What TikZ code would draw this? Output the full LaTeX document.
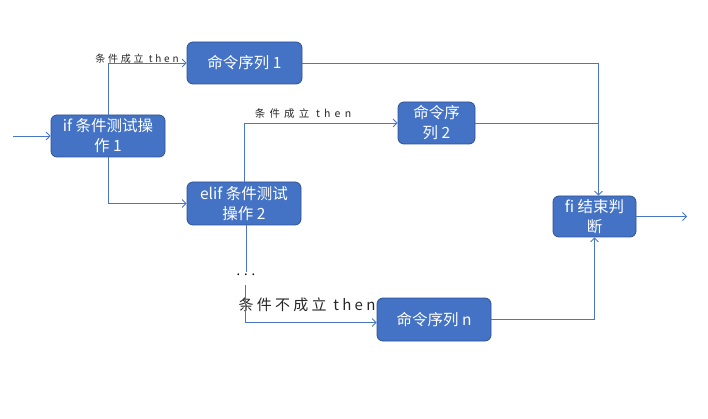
\documentclass[tikz,border=0pt]{standalone}
\usepackage{fontspec}
\newfontfamily\cjk{Noto Sans CJK SC}
\newfontfamily\cjkls[LetterSpace=28]{Noto Sans CJK SC}
\newfontfamily\cjklsc[LetterSpace=40]{Noto Sans CJK SC}
\newfontfamily\cjklsb[LetterSpace=22]{Noto Sans CJK SC}
\newfontfamily\cjkdots[LetterSpace=30]{Noto Sans CJK SC}
\usetikzlibrary{arrows.meta}
\definecolor{boxblue}{HTML}{4472C4}
\definecolor{boxedge}{HTML}{2F528F}
\definecolor{lineblue}{HTML}{4A76C6}
\tikzset{
  box/.style={draw=boxedge, fill=boxblue, rounded corners=6pt, line width=0.8pt,
    text=white, align=center, inner sep=0pt,
    font=\cjk\fontsize{15.5}{20}\selectfont},
  conn/.style={draw=lineblue, line width=0.9pt},
  arr/.style={conn, -{Straight Barb[length=4pt,width=8pt,line width=0.8pt]}},
  lbl/.style={inner sep=0pt, text=black!85, font=\cjkls\fontsize{10}{12}\selectfont},
  lblc/.style={inner sep=0pt, text=black!85, font=\cjklsc\fontsize{10.5}{12}\selectfont},
  lblbig/.style={inner sep=0pt, text=black!85, font=\cjklsb\fontsize{15}{16}\selectfont}
}
\begin{document}
\begin{tikzpicture}[x=1pt,y=-1pt]
\useasboundingbox (0,0) rectangle (708,419);
\node[box, minimum width=114pt, minimum height=42pt] (if) at (108,136) {if 条件测试操\\作 1};
\node[box, minimum width=115pt, minimum height=42pt] (s1) at (244.5,63) {命令序列 1};
\node[box, minimum width=77pt, minimum height=42pt] (s2) at (436.5,123) {命令序\\列 2};
\node[box, minimum width=114pt, minimum height=43pt] (elif) at (244,203.5) {elif 条件测试\\操作 2};
\node[box, minimum width=114pt, minimum height=43pt] (sn) at (434,319.5) {命令序列 n};
\node[box, minimum width=83pt, minimum height=41pt] (fi) at (594.5,216.5) {fi 结束判\\断};
\coordinate (in) at (13,136);
\coordinate (out) at (687,216.5);
\coordinate (c1) at (246,272);
\coordinate (fitop) at ([xshift=4pt]fi.north);
\node[inner sep=0pt, font=\cjkdots\fontsize{13}{13}\selectfont] (dots) at (246,275) {...};
\node[lbl] (l1) at (137,59) {条件成立 then};
\node[lblc] (l2) at (303,114) {条件成立 then};
\node[lblbig] (l3) at (307,305) {条件不成立 then};
\draw[arr] (in) -- (if.west);
\draw[arr] (if.north) |- (s1.west);
\draw[arr] (if.south) |- (elif.west);
\draw[arr] (elif.north) |- (s2.west);
\draw[conn] ([xshift=2pt]elif.south) -- (c1);
\draw[arr] ([xshift=-1pt,yshift=-9pt]dots.south) |- ([yshift=-3pt]sn.west);
\draw[arr] (s1.east) -| (fitop);
\draw[conn] (s2.east) -- (s2.east -| fitop);
\draw[arr] (sn.east) -| (fi.south);
\draw[arr] (fi.east) -- (out);
\end{tikzpicture}
\end{document}
